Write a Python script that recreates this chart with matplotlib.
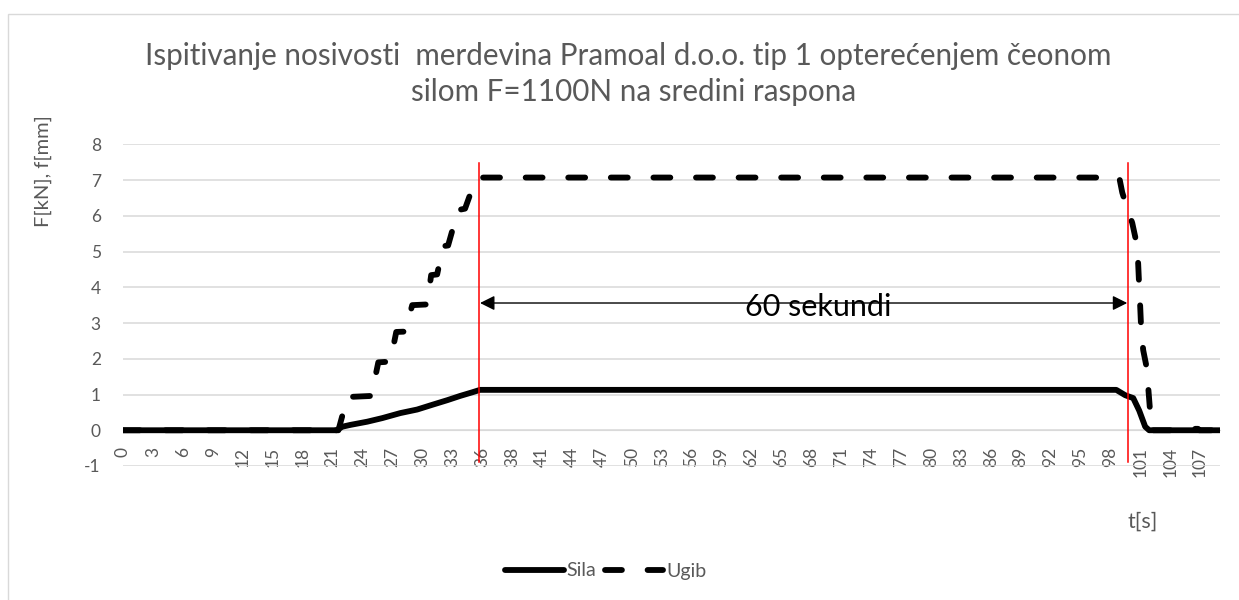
import matplotlib
matplotlib.use("Agg")
import matplotlib.pyplot as plt
from matplotlib.lines import Line2D
from matplotlib.patches import Rectangle

plt.rcParams['font.family'] = ['Lato', 'DejaVu Sans']
plt.rcParams['axes.unicode_minus'] = False

# ---- data (category index positions, ~1 sample per second) ----
tick_labels = [0, 3, 6, 9, 12, 15, 18, 21, 24, 27, 30, 33, 36, 38, 41, 44, 47, 50,
               53, 56, 59, 62, 65, 68, 71, 74, 77, 80, 83, 86, 89, 92, 95, 98, 101, 104, 107]
tick_pos = [3 * i for i in range(len(tick_labels))]

sila_idx = [0, 21.4, 22.0, 22.8, 24.5, 26.0, 27.8, 29.5, 31.1, 32.5, 33.8, 35.0, 35.8,
            99.6, 100.5, 101.3, 101.9, 102.5, 102.9, 110]
sila_val = [0, 0, 0.10, 0.15, 0.24, 0.34, 0.48, 0.58, 0.72, 0.84, 0.96, 1.06, 1.13,
            1.13, 0.98, 0.90, 0.55, 0.10, 0, 0]

ugib_idx = [0, 21.6, 22.5, 24.9, 25.6, 26.8, 27.4, 28.3, 29.0, 30.5, 30.9, 31.5, 32.1,
            32.6, 33.6, 34.3, 35.2, 35.7, 99.9, 100.2, 100.7, 101.2, 101.7, 101.8,
            101.9, 102.0, 102.1, 102.3, 102.7, 102.8, 103.0, 103.1, 105.6, 105.7,
            107.8, 107.9, 110]
ugib_val = [0, 0, 0.93, 0.96, 1.90, 1.92, 2.75, 2.76, 3.50, 3.52, 4.34, 4.36, 5.15,
            5.17, 6.16, 6.20, 6.90, 7.07, 7.07, 6.65, 6.20, 5.80, 5.15, 4.63,
            4.00, 3.45, 2.80, 2.24, 1.68, 1.21, 0.50, 0, 0, 0.04,
            0.04, 0, 0]

red_x = [35.7, 100.8]
red_y = [-0.88, 7.49]
arrow_y = 3.56
arrow_text = "60 sekundi"

title1 = "Ispitivanje nosivosti  merdevina Pramoal d.o.o. tip 1 opterećenjem čeonom"
title2 = "silom F=1100N na sredini raspona"

W, H = 1239, 600
fig = plt.figure(figsize=(W / 100, H / 100), dpi=100)
fig.patch.set_facecolor('white')

# chart border
fig.patches.append(Rectangle((7.5 / W, -0.05), 1.2, (H - 13.5) / H + 0.05,
                             transform=fig.transFigure, fill=False,
                             edgecolor='#D9D9D9', lw=1.0))

ax = fig.add_axes([123 / W, 1 - 466 / H, (1220 - 123) / W, (466 - 144.3) / H])
ax.set_xlim(0, 110)
ax.set_ylim(-1, 8)
ax.set_yticks(range(-1, 9))
ax.grid(axis='y', color='#D9D9D9', lw=1.1)
ax.set_axisbelow(True)
for s in ['top', 'right', 'left']:
    ax.spines[s].set_visible(False)
ax.spines['bottom'].set_position(('data', 0))
ax.spines['bottom'].set_color('#D9D9D9')
ax.set_xticks(tick_pos)
ax.set_xticklabels([str(v) for v in tick_labels], rotation=90)
ax.tick_params(axis='x', length=0, pad=12, labelsize=12.5, labelcolor='#595959')
ax.tick_params(axis='y', length=0, pad=16, labelsize=12.5, labelcolor='#595959')

lw = 4.2
ax.plot(sila_idx, sila_val, color='black', lw=lw, solid_capstyle='round',
        solid_joinstyle='round', zorder=3)
ax.plot(ugib_idx, ugib_val, color='black', lw=lw, dashes=(2.9, 4.4),
        dash_capstyle='round', dash_joinstyle='round', zorder=3)

for x in red_x:
    ax.plot([x, x], red_y, color='red', lw=1.1, zorder=4, clip_on=False)

ax.annotate('', xy=(red_x[0] + 0.1, arrow_y), xytext=(red_x[1] - 0.1, arrow_y),
            arrowprops=dict(arrowstyle='<|-|>', color='black', lw=1.0,
                            mutation_scale=22, shrinkA=0, shrinkB=0), zorder=5)
ax.text(818 / 9.973 - 123 / 9.973, arrow_y - 0.1, arrow_text, ha='center', va='center',
        fontsize=22, color='black', zorder=6)

# titles
fig.text(628 / W, 1 - 65 / H, title1, ha='center', va='baseline', fontsize=21.3, color='#595959')
fig.text(634 / W, 1 - 101 / H, title2, ha='center', va='baseline', fontsize=21.3, color='#595959')
fig.text(43 / W, 1 - 171 / H, 'F[kN], f[mm]', rotation=90, ha='center', va='center',
         fontsize=14.5, color='#595959')
fig.text(1143 / W, 1 - 522 / H, 't[s]', ha='center', va='center', fontsize=15.5, color='#595959')

handles = [Line2D([], [], color='black', lw=lw, solid_capstyle='round'),
           Line2D([], [], color='black', lw=lw, dashes=(2.9, 4.4), dash_capstyle='round')]
leg = fig.legend(handles, ['Sila', 'Ugib'], loc='center', bbox_to_anchor=(606 / W, 1 - 571 / H),
                 ncol=2, frameon=False, fontsize=14, handlelength=3.0, handletextpad=0.15,
                 columnspacing=0.45)
for t in leg.get_texts():
    t.set_color('#595959')

fig.savefig('out.png', dpi=100)
